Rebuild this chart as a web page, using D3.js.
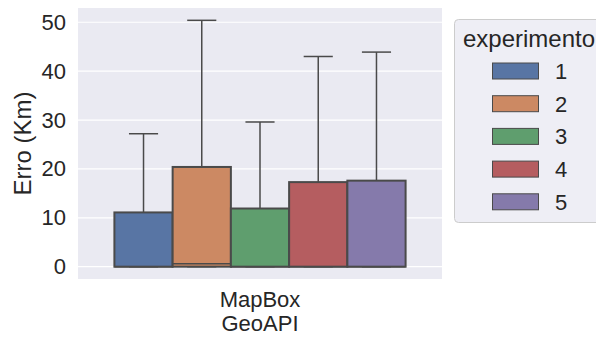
<!DOCTYPE html>
<html>
<head>
<meta charset="utf-8">
<script src="https://cdn.jsdelivr.net/npm/d3@7"></script>
<style>
  html, body { margin: 0; padding: 0; background: #fff; }
  svg { display: block; font-family: "Liberation Sans", Arial, sans-serif; }
</style>
</head>
<body>
<svg id="chart" width="596" height="338"></svg>
<script>
// Error distribution per experiment (km)
const categories = ["MapBox\nGeoAPI"];
const experiments = ["1", "2", "3", "4", "5"];
const q1Values      = [0, 0, 0, 0, 0];
const medianValues  = [0, 0.6, 0, 0, 0];
const q3Values      = [11.1, 20.4, 11.9, 17.3, 17.6];
const whiskerLow    = [0, 0, 0, 0, 0];
const whiskerHigh   = [27.2, 50.4, 29.6, 43.0, 43.9];
const yTicks        = [0, 10, 20, 30, 40, 50];
const palette = ["#5875a4", "#cc8963", "#5f9e6e", "#b55d60", "#857aab"];

const svg = d3.select("#chart");
const plot = { left: 78, right: 442, top: 8, bottom: 279 };
const lineColor = "#4a4a4a";

const lo = d3.min(whiskerLow), hi = d3.max(whiskerHigh);
const pad = (hi - lo) * 0.05;
const y = d3.scaleLinear().domain([lo - pad, hi + pad]).range([plot.bottom, plot.top]);

const x = d3.scaleBand().domain(categories).range([plot.left, plot.right]).paddingInner(0).paddingOuter(0);
const hue = d3.scaleBand().domain(experiments)
  .range([x(categories[0]) + x.bandwidth() * 0.1, x(categories[0]) + x.bandwidth() * 0.9]);

// background
svg.append("rect").attr("x", plot.left).attr("y", plot.top)
  .attr("width", plot.right - plot.left).attr("height", plot.bottom - plot.top)
  .attr("fill", "#eaeaf2");

// grid
svg.append("g").selectAll("line").data(yTicks).join("line")
  .attr("x1", plot.left).attr("x2", plot.right)
  .attr("y1", d => y(d)).attr("y2", d => y(d))
  .attr("stroke", "#fff").attr("stroke-width", 1.2);

// y axis
const yAxis = svg.append("g").attr("transform", `translate(${plot.left},0)`)
  .call(d3.axisLeft(y).tickValues(yTicks).tickSize(0).tickPadding(12));
yAxis.select(".domain").remove();
yAxis.selectAll("text").attr("font-size", 22).attr("fill", "#262626")
  .attr("font-family", "Liberation Sans, Arial, sans-serif");

// x axis (multi-line category label)
categories.forEach(c => {
  const t = svg.append("text").attr("x", x(c) + x.bandwidth() / 2).attr("y", 307)
    .attr("text-anchor", "middle").attr("font-size", 22).attr("fill", "#262626");
  c.split("\n").forEach((line, i) => {
    t.append("tspan").attr("x", x(c) + x.bandwidth() / 2).attr("dy", i === 0 ? 0 : 24).text(line);
  });
});

// y label
svg.append("text")
  .attr("transform", `translate(31,${(plot.top + plot.bottom) / 2}) rotate(-90)`)
  .attr("text-anchor", "middle").attr("font-size", 24).attr("fill", "#262626")
  .text("Erro (Km)");

// boxes
const boxes = svg.append("g");
experiments.forEach((e, i) => {
  const bx = hue(e), bw = hue.bandwidth(), cx = bx + bw / 2, cap = bw * 0.25;
  const g = boxes.append("g");
  // whiskers
  g.append("line").attr("x1", cx).attr("x2", cx)
    .attr("y1", y(q3Values[i])).attr("y2", y(whiskerHigh[i]))
    .attr("stroke", lineColor).attr("stroke-width", 1.5);
  g.append("line").attr("x1", cx - cap).attr("x2", cx + cap)
    .attr("y1", y(whiskerHigh[i])).attr("y2", y(whiskerHigh[i]))
    .attr("stroke", lineColor).attr("stroke-width", 1.5);
  g.append("line").attr("x1", cx).attr("x2", cx)
    .attr("y1", y(q1Values[i])).attr("y2", y(whiskerLow[i]))
    .attr("stroke", lineColor).attr("stroke-width", 1.5);
  g.append("line").attr("x1", cx - cap).attr("x2", cx + cap)
    .attr("y1", y(whiskerLow[i])).attr("y2", y(whiskerLow[i]))
    .attr("stroke", lineColor).attr("stroke-width", 1.5);
  // box
  g.append("rect").attr("x", bx).attr("width", bw)
    .attr("y", y(q3Values[i])).attr("height", y(q1Values[i]) - y(q3Values[i]))
    .attr("fill", palette[i]).attr("stroke", lineColor).attr("stroke-width", 2);
  // median
  g.append("line").attr("x1", bx).attr("x2", bx + bw)
    .attr("y1", y(medianValues[i])).attr("y2", y(medianValues[i]))
    .attr("stroke", lineColor).attr("stroke-width", 1.5);
});

// legend
const lg = svg.append("g");
lg.append("rect").attr("x", 454.5).attr("y", 19.5).attr("width", 160).attr("height", 203)
  .attr("rx", 4).attr("fill", "#eeeef5").attr("stroke", "#cccccc").attr("stroke-width", 1);
lg.append("text").attr("x", 463).attr("y", 47).attr("font-size", 24).attr("fill", "#262626")
  .text("experimento");
experiments.forEach((e, i) => {
  const cy = 71 + i * 32.7;
  lg.append("rect").attr("x", 492.5).attr("y", cy - 8).attr("width", 46).attr("height", 16)
    .attr("fill", palette[i]).attr("stroke", lineColor).attr("stroke-width", 1);
  lg.append("text").attr("x", 555).attr("y", cy).attr("dy", "0.36em")
    .attr("font-size", 22).attr("fill", "#262626").text(e);
});
</script>
</body>
</html>
